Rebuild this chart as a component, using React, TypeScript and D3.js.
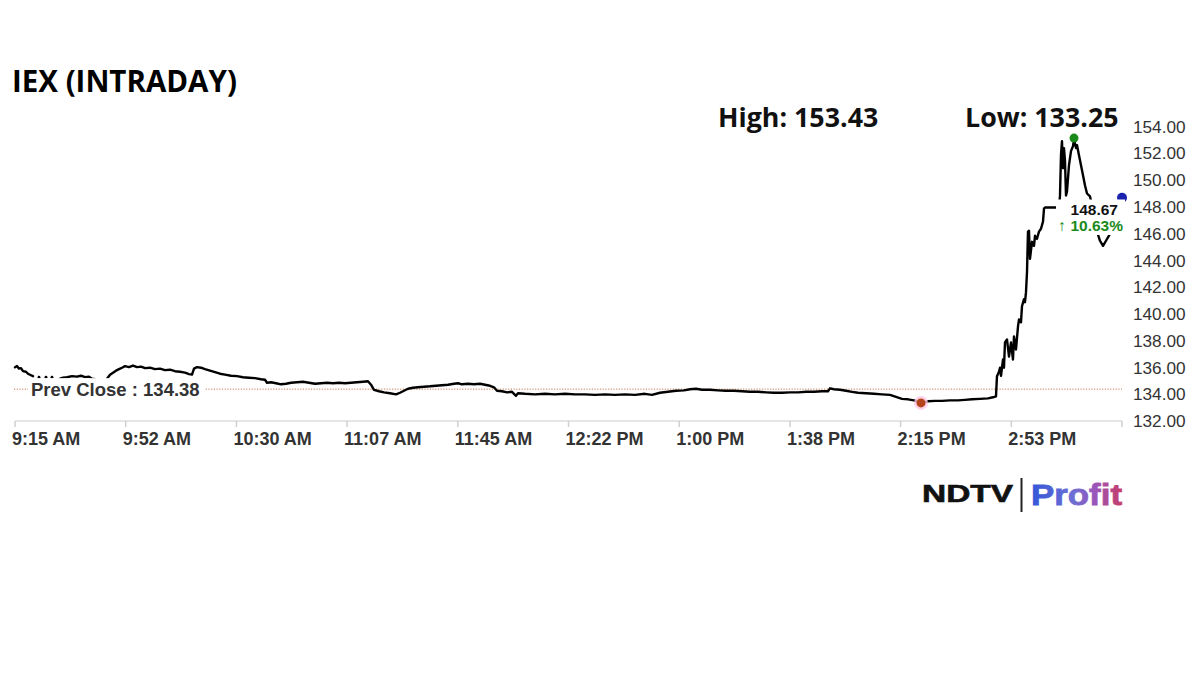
import React from "react";
import * as d3 from "d3";

// ---- Data ----
const title = "IEX (INTRADAY)";
const highText = "High: 153.43";
const lowText = "Low: 133.25";
const prevClose = 134.38;
const lastPrice = 148.67;
const changePct = 10.63;

// minutes since the 9:15 AM open
const sessionMinutes = [0, 375];
const timeTickMinutes = [0, 37.5, 75, 112.5, 150, 187.5, 225, 262.5, 300, 337.5, 375];
const timeTickLabels = [
  "9:15 AM", "9:52 AM", "10:30 AM", "11:07 AM", "11:45 AM", "12:22 PM",
  "1:00 PM", "1:38 PM", "2:15 PM", "2:53 PM", "",
];
const priceTicks = [132, 134, 136, 138, 140, 142, 144, 146, 148, 150, 152, 154];

// [minutes since open, price]; null price = no trade (gap in line)
const intraday: [number, number | null][] = [
  [0, 136.01], [0.68, 136.1], [1.36, 135.91], [2.03, 135.95], [2.71, 135.72], [3.73, 135.68],
  [4.4, 135.53], [5.42, 135.42], [6.1, 135.35], [7.1, null],
  [8.13, 135.27], [9.3, null], [10.5, 135.27], [11.5, null], [12.53, 135.27], [13.8, null],
  [15.24, 135.16], [16.26, 135.23], [17.62, 135.27], [19.31, 135.35], [21.0, 135.31], [22.36, 135.38],
  [23.71, 135.27], [25.07, 135.31], [26.08, 135.16], [27.1, 135.12], [29.0, null],
  [31.17, 135.16], [32.18, 135.46], [33.2, 135.61], [34.21, 135.76], [35.23, 135.87], [36.25, 135.98],
  [37.26, 136.1], [38.62, 136.02], [39.97, 136.14], [41.33, 136.02], [42.68, 136.06], [44.04, 135.95],
  [45.73, 135.98], [47.43, 135.87], [49.12, 135.91], [50.81, 135.8], [52.51, 135.83], [54.2, 135.72],
  [55.89, 135.68], [57.59, 135.61], [58.94, 135.5], [59.96, 135.46], [60.64, 135.91], [61.65, 136.02],
  [63.01, 135.98], [64.36, 135.87], [66.06, 135.76], [67.75, 135.65], [69.44, 135.53], [71.14, 135.46],
  [73.17, 135.38], [75.2, 135.35], [77.24, 135.27], [79.27, 135.23], [81.3, 135.2], [83.33, 135.12],
  [84.69, 135.08], [85.37, 134.86], [86.72, 134.89], [88.41, 134.82], [90.11, 134.74], [91.8, 134.78],
  [93.5, 134.86], [95.53, 134.89], [97.56, 134.93], [99.59, 134.86], [101.63, 134.78], [103.66, 134.82],
  [105.69, 134.86], [107.72, 134.82], [109.76, 134.86], [111.79, 134.82], [113.82, 134.86], [115.85, 134.89],
  [117.89, 134.93], [119.58, 134.97], [120.6, 134.71], [121.61, 134.33], [123.31, 134.22], [125.0, 134.14],
  [127.03, 134.07], [129.06, 133.99], [130.42, 134.11], [131.77, 134.26], [133.13, 134.41], [134.82, 134.48],
  [136.52, 134.52], [138.55, 134.56], [140.58, 134.59], [142.61, 134.63], [144.65, 134.67], [146.68, 134.71],
  [148.71, 134.78], [150.07, 134.82], [151.42, 134.74], [153.45, 134.78], [155.48, 134.74], [157.52, 134.78],
  [159.21, 134.71], [160.91, 134.63], [162.26, 134.52], [163.28, 134.26], [164.97, 134.22], [166.67, 134.14],
  [168.36, 134.18], [169.71, 133.88], [170.39, 134.07], [172.76, 134.03], [176.15, 133.99], [179.54, 134.03],
  [182.93, 133.99], [186.31, 134.03], [189.7, 133.99], [193.09, 133.99], [196.48, 133.95], [199.86, 133.99],
  [203.25, 133.95], [206.64, 133.99], [210.03, 133.95], [213.41, 134.03], [215.78, 133.95], [218.49, 134.11],
  [221.2, 134.18], [223.91, 134.26], [226.62, 134.29], [228.66, 134.37], [230.69, 134.41], [232.72, 134.33],
  [235.43, 134.33], [238.14, 134.29], [240.85, 134.26], [243.56, 134.26], [246.27, 134.22], [248.98, 134.18],
  [251.69, 134.18], [254.4, 134.14], [257.11, 134.11], [259.82, 134.11], [262.53, 134.14], [265.24, 134.14],
  [267.95, 134.18], [270.66, 134.18], [273.37, 134.22], [275.4, 134.22], [276.08, 134.44], [277.44, 134.37],
  [279.47, 134.33], [281.5, 134.26], [283.54, 134.18], [285.57, 134.11], [288.28, 134.07], [290.99, 134.03],
  [293.7, 133.99], [296.41, 133.95], [298.44, 133.8], [300.47, 133.65], [302.5, 133.62], [304.54, 133.54],
  [306.91, 133.35], [309.28, 133.47], [311.65, 133.5], [314.02, 133.5], [316.73, 133.54], [319.44, 133.54],
  [321.81, 133.58], [324.18, 133.62], [326.89, 133.65], [329.6, 133.69], [331.3, 133.77], [332.31, 133.84],
  [332.65, 135.35], [333.33, 135.68], [333.67, 135.98], [334.01, 135.38], [334.69, 136.59], [335.02, 135.98],
  [335.36, 137.86], [336.04, 138.09], [336.72, 136.81], [337.4, 137.86], [338.07, 136.59], [338.41, 138.32],
  [339.09, 137.34], [339.77, 139.07], [340.11, 139.59], [340.78, 139.37], [341.12, 140.57], [341.8, 141.1],
  [342.14, 140.87], [342.48, 141.62], [342.82, 143.13], [343.15, 146.14], [343.49, 146.21], [343.83, 144.11],
  [344.51, 145.38], [345.19, 145.08], [345.53, 145.83], [346.2, 145.61], [346.88, 146.14], [347.56, 146.36],
  [348.24, 146.89], [348.58, 147.86], [348.91, 147.94], [353.66, 147.94], [354.0, 148.84], [354.33, 151.85],
  [354.67, 152.9], [355.01, 150.87], [355.35, 152.38], [355.69, 151.4], [356.03, 148.84], [356.37, 149.14],
  [357.04, 151.1], [357.72, 152.15], [358.4, 152.53], [358.74, 153.05], [359.42, 152.38], [359.76, 152.6],
  [360.43, 151.85], [361.11, 151.1], [361.79, 150.35], [362.47, 149.59], [363.15, 148.99], [364.16, 148.77],
  [365.52, 147.49], [366.87, 145.91], [367.55, 145.46], [368.57, 145.08], [369.58, 145.46], [370.94, 145.98],
  [372.29, 147.11], [373.65, 148.24], [375.0, 148.67],
];

export default function App() {
  const W = 1200;
  const H = 675;
  const x = d3.scaleLinear().domain(sessionMinutes).range([15, 1122]);
  const y = d3.scaleLinear().domain([132, 154]).range([421, 126.4]);

  const defined = intraday.filter((d) => d[1] != null) as [number, number][];
  const line = d3
    .line<[number, number | null]>()
    .defined((d) => d[1] != null)
    .x((d) => x(d[0]))
    .y((d) => y(d[1] as number));

  const isolated = intraday.filter((d, i) => {
    if (d[1] == null) return false;
    const prev = intraday[i - 1];
    const next = intraday[i + 1];
    return (!prev || prev[1] == null) && (!next || next[1] == null);
  });

  const hi = defined.reduce((a, b) => (b[1] > a[1] ? b : a));
  const lo = defined.reduce((a, b) => (b[1] < a[1] ? b : a));
  const last = defined[defined.length - 1];

  const axisFont = "'Liberation Sans', Arial, sans-serif";
  const headFont = "'Open Sans', 'Noto Sans', sans-serif";

  return (
    <svg
      width={W}
      height={H}
      viewBox={`0 0 ${W} ${H}`}
      style={{ position: "absolute", left: 0, top: 0, background: "#fff" }}
    >
      <defs>
        <linearGradient id="profitGrad" x1="0" x2="1" y1="0" y2="0">
          <stop offset="0%" stopColor="#3556d8" />
          <stop offset="45%" stopColor="#6a70d4" />
          <stop offset="70%" stopColor="#9a55bb" />
          <stop offset="100%" stopColor="#c63d66" />
        </linearGradient>
      </defs>
      <rect x={0} y={0} width={W} height={H} fill="#fff" />

      {/* Title */}
      <text x={12} y={92} fontFamily={headFont} fontWeight={700} fontSize={29.5} fill="#000">
        {title}
      </text>
      <text x={718} y={127} fontFamily={headFont} fontWeight={700} fontSize={26.8} fill="#111">
        {highText}
      </text>
      <text x={965} y={127} fontFamily={headFont} fontWeight={700} fontSize={26.8} fill="#111">
        {lowText}
      </text>

      {/* X axis */}
      <line x1={x(0)} x2={x(375)} y1={421} y2={421} stroke="#dcdcdc" strokeWidth={1.5} />
      {timeTickMinutes.map((m, i) => (
        <g key={"xt" + i}>
          <line x1={x(m)} x2={x(m)} y1={421} y2={427} stroke="#d0d0d0" strokeWidth={1.5} />
          <text
            x={x(m) - 3}
            y={445}
            fontFamily={axisFont}
            fontWeight={700}
            fontSize={18}
            fill="#333"
          >
            {timeTickLabels[i]}
          </text>
        </g>
      ))}

      {/* Y axis labels */}
      {priceTicks.map((p) => (
        <text
          key={"yt" + p}
          x={1133}
          y={y(p)}
          dy="0.36em"
          fontFamily={axisFont}
          fontSize={17.2}
          fill="#333"
        >
          {p.toFixed(2)}
        </text>
      ))}

      {/* Prev close */}
      <line
        x1={14}
        x2={1122}
        y1={y(prevClose)}
        y2={y(prevClose)}
        stroke="#c27a4a"
        strokeWidth={1}
        strokeDasharray="1.2 1.5"
      />

      {/* Price line */}
      <path
        d={line(intraday) || ""}
        fill="none"
        stroke="#000"
        strokeWidth={2.4}
        strokeLinejoin="round"
        strokeLinecap="round"
      />
      {isolated.map((d, i) => (
        <circle key={"iso" + i} cx={x(d[0])} cy={y(d[1] as number)} r={1.4} fill="#000" />
      ))}

      <rect x={28} y={y(prevClose) - 11} width={177} height={22} fill="#fff" />
      <text
        x={31}
        y={y(prevClose)}
        dy="0.36em"
        fontFamily={axisFont}
        fontWeight={700}
        fontSize={18.5}
        fill="#333"
      >
        {`Prev Close : ${prevClose.toFixed(2)}`}
      </text>

      {/* Markers */}
      <circle cx={x(lo[0])} cy={y(lo[1])} r={7} fill="#ffc8e6" opacity={0.8} />
      <circle cx={x(lo[0])} cy={y(lo[1])} r={4.5} fill="#b5441a" />
      <circle cx={x(hi[0])} cy={y(hi[1]) - 1} r={4.5} fill="#1b8a1b" />
      <circle cx={x(last[0])} cy={y(last[1])} r={5} fill="#1a22b0" />

      {/* Last price label */}
      <rect x={1056} y={199.5} width={69} height={35.5} fill="#fff" />
      <text
        x={1118}
        y={215}
        textAnchor="end"
        fontFamily={axisFont}
        fontWeight={700}
        fontSize={15.5}
        fill="#111"
      >
        {lastPrice.toFixed(2)}
      </text>
      <text
        x={1123}
        y={231}
        textAnchor="end"
        fontFamily={axisFont}
        fontWeight={700}
        fontSize={15.5}
        fill="#1a8a1a"
      >
        {`\u2191 ${changePct.toFixed(2)}%`}
      </text>

      {/* Logo */}
      <text
        x={922}
        y={502}
        fontFamily={axisFont}
        fontWeight={900}
        fontSize={24}
        textLength={91}
        lengthAdjust="spacingAndGlyphs"
        fill="#111"
        stroke="#111"
        strokeWidth={0.6}
      >
        NDTV
      </text>
      <line x1={1021.5} x2={1021.5} y1={478} y2={512} stroke="#222" strokeWidth={2} />
      <text
        x={1031}
        y={505}
        fontFamily={axisFont}
        fontWeight={700}
        fontSize={30}
        textLength={91}
        lengthAdjust="spacingAndGlyphs"
        fill="url(#profitGrad)"
        stroke="url(#profitGrad)"
        strokeWidth={0.8}
      >
        Profit
      </text>
    </svg>
  );
}
